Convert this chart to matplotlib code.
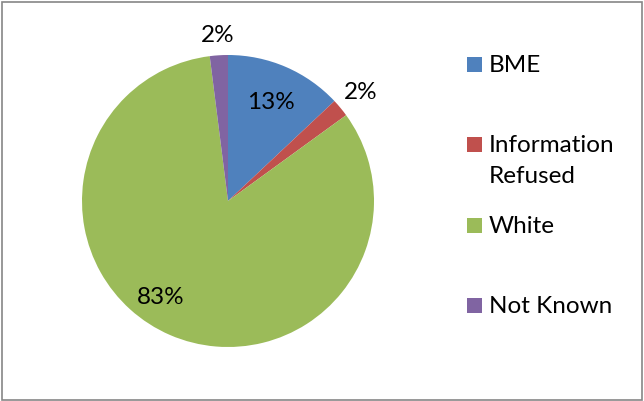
import matplotlib
matplotlib.use("Agg")
import matplotlib.pyplot as plt
import numpy as np
from matplotlib.patches import Rectangle

categories = ["BME", "Information\nRefused", "White", "Not Known"]
values = [13, 2, 83, 2]
pct_labels = ["13%", "2%", "83%", "2%"]
colors = ["#4F81BD", "#C0504D", "#9BBB59", "#8064A2"]

plt.rcParams['font.family'] = ['Lato', 'DejaVu Sans']
FS = 17.5

W, H = 644, 402
fig = plt.figure(figsize=(W/100, H/100), dpi=100)
fig.patches.append(Rectangle((1.5/W, 1.5/H), (W-4)/W, (H-4)/H, transform=fig.transFigure,
                             fill=False, edgecolor="#868686", linewidth=1.2))

cx, cy, r = 228, 200, 146
ax = fig.add_axes([(cx-r)/W, (cy-r)/H, 2*r/W, 2*r/H])
wedges, _ = ax.pie(values, colors=colors, startangle=90, counterclock=False, radius=1,
                   wedgeprops=dict(linewidth=0))
ax.set_xlim(-1, 1); ax.set_ylim(-1, 1)
ax.set_aspect('equal')

dists = [0.74, 1.18, 0.80, 1.14]
offs = [0, 0, -12, 0]
for w, lab, d, o in zip(wedges, pct_labels, dists, offs):
    ang = np.deg2rad((w.theta1 + w.theta2) / 2 + o)
    ax.text(d*np.cos(ang), d*np.sin(ang), lab, ha='center', va='center', fontsize=FS, color='black')

# legend
mx, msz = 467, 15
ys = [65.5, 145.5, 226, 306]
for lab, c, y in zip(categories, colors, ys):
    fig.patches.append(Rectangle((mx/W, 1-(y+msz/2)/H), msz/W, msz/H, transform=fig.transFigure,
                                 facecolor=c, edgecolor='none'))
    fig.text(489/W, 1-(y-10)/H, lab, ha='left', va='top', fontsize=FS, linespacing=1.55)

fig.savefig("out.png", dpi=100)
